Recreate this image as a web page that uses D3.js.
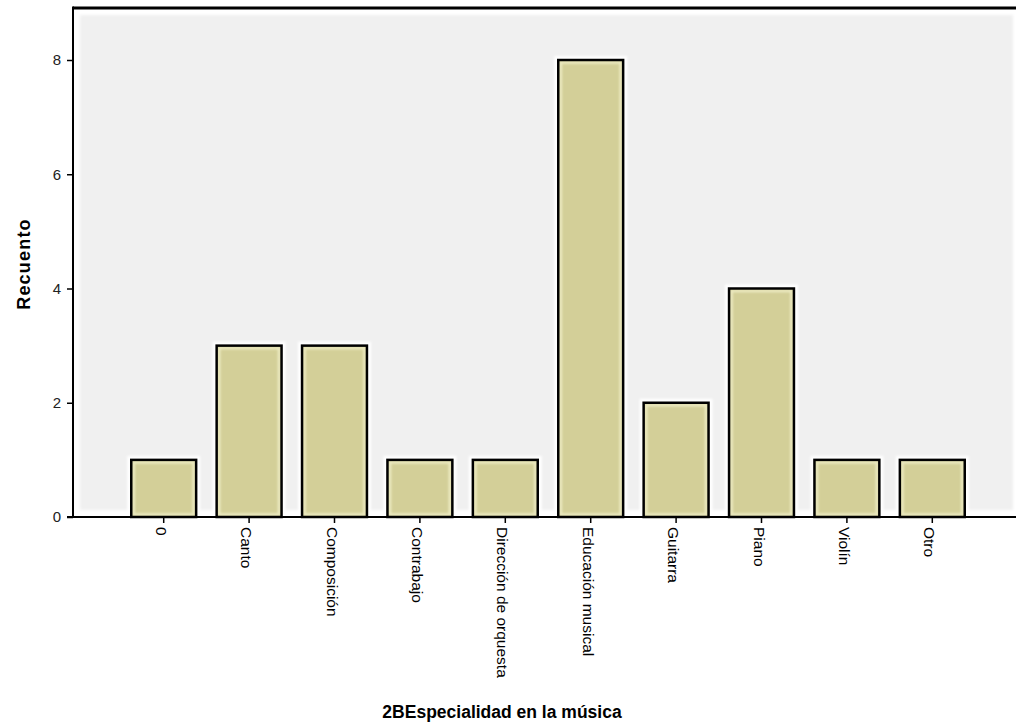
<!DOCTYPE html>
<html><head><meta charset="utf-8">
<script src="https://cdn.jsdelivr.net/npm/d3@7"></script>
<style>body{margin:0;background:#fff}</style>
</head><body>
<svg id="c" width="1016" height="725"></svg>
<script>
const categories = ["0","Canto","Composición","Contrabajo","Dirección de orquesta","Educación musical","Guitarra","Piano","Violín","Otro"];
const counts = [1,3,3,1,1,8,2,4,1,1];
const yTicks = [0,2,4,6,8];
const xTitle = "2BEspecialidad en la música";
const yTitle = "Recuento";

const svg = d3.select("#c");
const pLeft = 73, pTop = 8, pBottom = 517, pRight = 1016;
const font = "Liberation Sans, Arial, sans-serif";
const x = d3.scaleBand().domain(categories).range([121, 975]).paddingInner(0.24).paddingOuter(0.12);
const y = d3.scaleLinear().domain([0, 8]).range([pBottom, 60]);

const defs = svg.append("defs");
defs.append("filter").attr("id","soft").attr("x","-5%").attr("y","-5%").attr("width","110%").attr("height","110%")
  .append("feGaussianBlur").attr("stdDeviation", 1.5);
defs.append("filter").attr("id","glow")
  .append("feGaussianBlur").attr("stdDeviation", 1.2);

svg.append("rect").attr("x", 80).attr("y", 15).attr("width", 933).attr("height", 495)
  .attr("fill", "#f0f0f0").attr("filter", "url(#soft)");

const data = categories.map((c, i) => ({c, v: counts[i]}));
const g = svg.append("g");
g.selectAll("rect.halo").data(data).join("rect").attr("class","halo")
  .attr("x", d => x(d.c) - 4).attr("y", d => y(d.v) - 4)
  .attr("width", x.bandwidth() + 8).attr("height", d => pBottom - y(d.v) + 4)
  .attr("fill", "#fff").attr("filter","url(#glow)");
g.selectAll("rect.bar").data(data).join("rect").attr("class","bar")
  .attr("x", d => x(d.c)).attr("y", d => y(d.v))
  .attr("width", x.bandwidth()).attr("height", d => pBottom - y(d.v))
  .attr("fill", "#d3cf98");
g.selectAll("rect.inner").data(data).join("rect").attr("class","inner")
  .attr("x", d => x(d.c) + 2.5).attr("y", d => y(d.v) + 2.5)
  .attr("width", x.bandwidth() - 5).attr("height", d => pBottom - y(d.v) - 5)
  .attr("fill", "none").attr("stroke", "#eeecc4").attr("stroke-width", 2.5).attr("filter","url(#glow)");
g.selectAll("rect.out").data(data).join("rect").attr("class","out")
  .attr("x", d => x(d.c)).attr("y", d => y(d.v))
  .attr("width", x.bandwidth()).attr("height", d => pBottom - y(d.v))
  .attr("fill", "none").attr("stroke", "#000").attr("stroke-width", 2.5);

svg.append("line").attr("x1", pLeft).attr("x2", pRight).attr("y1", pTop).attr("y2", pTop)
  .attr("stroke", "#000").attr("stroke-width", 3);
svg.append("line").attr("x1", pLeft).attr("x2", pLeft).attr("y1", pTop - 1.5).attr("y2", pBottom)
  .attr("stroke", "#000").attr("stroke-width", 2);

const ya = svg.append("g").attr("transform", `translate(${pLeft},0)`)
  .call(d3.axisLeft(y).tickValues(yTicks).tickSize(6).tickPadding(6).tickFormat(d3.format("d")));
ya.select(".domain").remove();
ya.selectAll("line").attr("stroke", "#000").attr("stroke-width", 1.5);
ya.selectAll("text").attr("font-family", font).attr("font-size", 15).attr("fill","#222");

const xa = svg.append("g").attr("transform", `translate(0,${pBottom})`)
  .call(d3.axisBottom(x).tickSize(6).tickPadding(0));
xa.select(".domain").remove();
svg.append("line").attr("x1", pLeft - 6).attr("x2", pRight).attr("y1", pBottom).attr("y2", pBottom)
  .attr("stroke", "#000").attr("stroke-width", 2);
xa.selectAll("line").attr("stroke", "#000").attr("stroke-width", 1.5);
xa.selectAll("text")
  .attr("font-family", font).attr("font-size", 15.5).attr("fill","#000")
  .attr("text-anchor", "start").attr("dy", null).attr("y", null)
  .attr("transform", "translate(-8,10) rotate(90)");

svg.append("text").attr("x", 502).attr("y", 718).attr("text-anchor","middle")
  .attr("font-family", font).attr("font-weight","bold").attr("font-size", 17.5)
  .text(xTitle);
svg.append("text").attr("transform", "translate(30,264) rotate(-90)").attr("text-anchor","middle")
  .attr("font-family", font).attr("font-weight","bold").attr("font-size", 18).attr("letter-spacing", 1.2)
  .text(yTitle);
</script>
</body></html>
